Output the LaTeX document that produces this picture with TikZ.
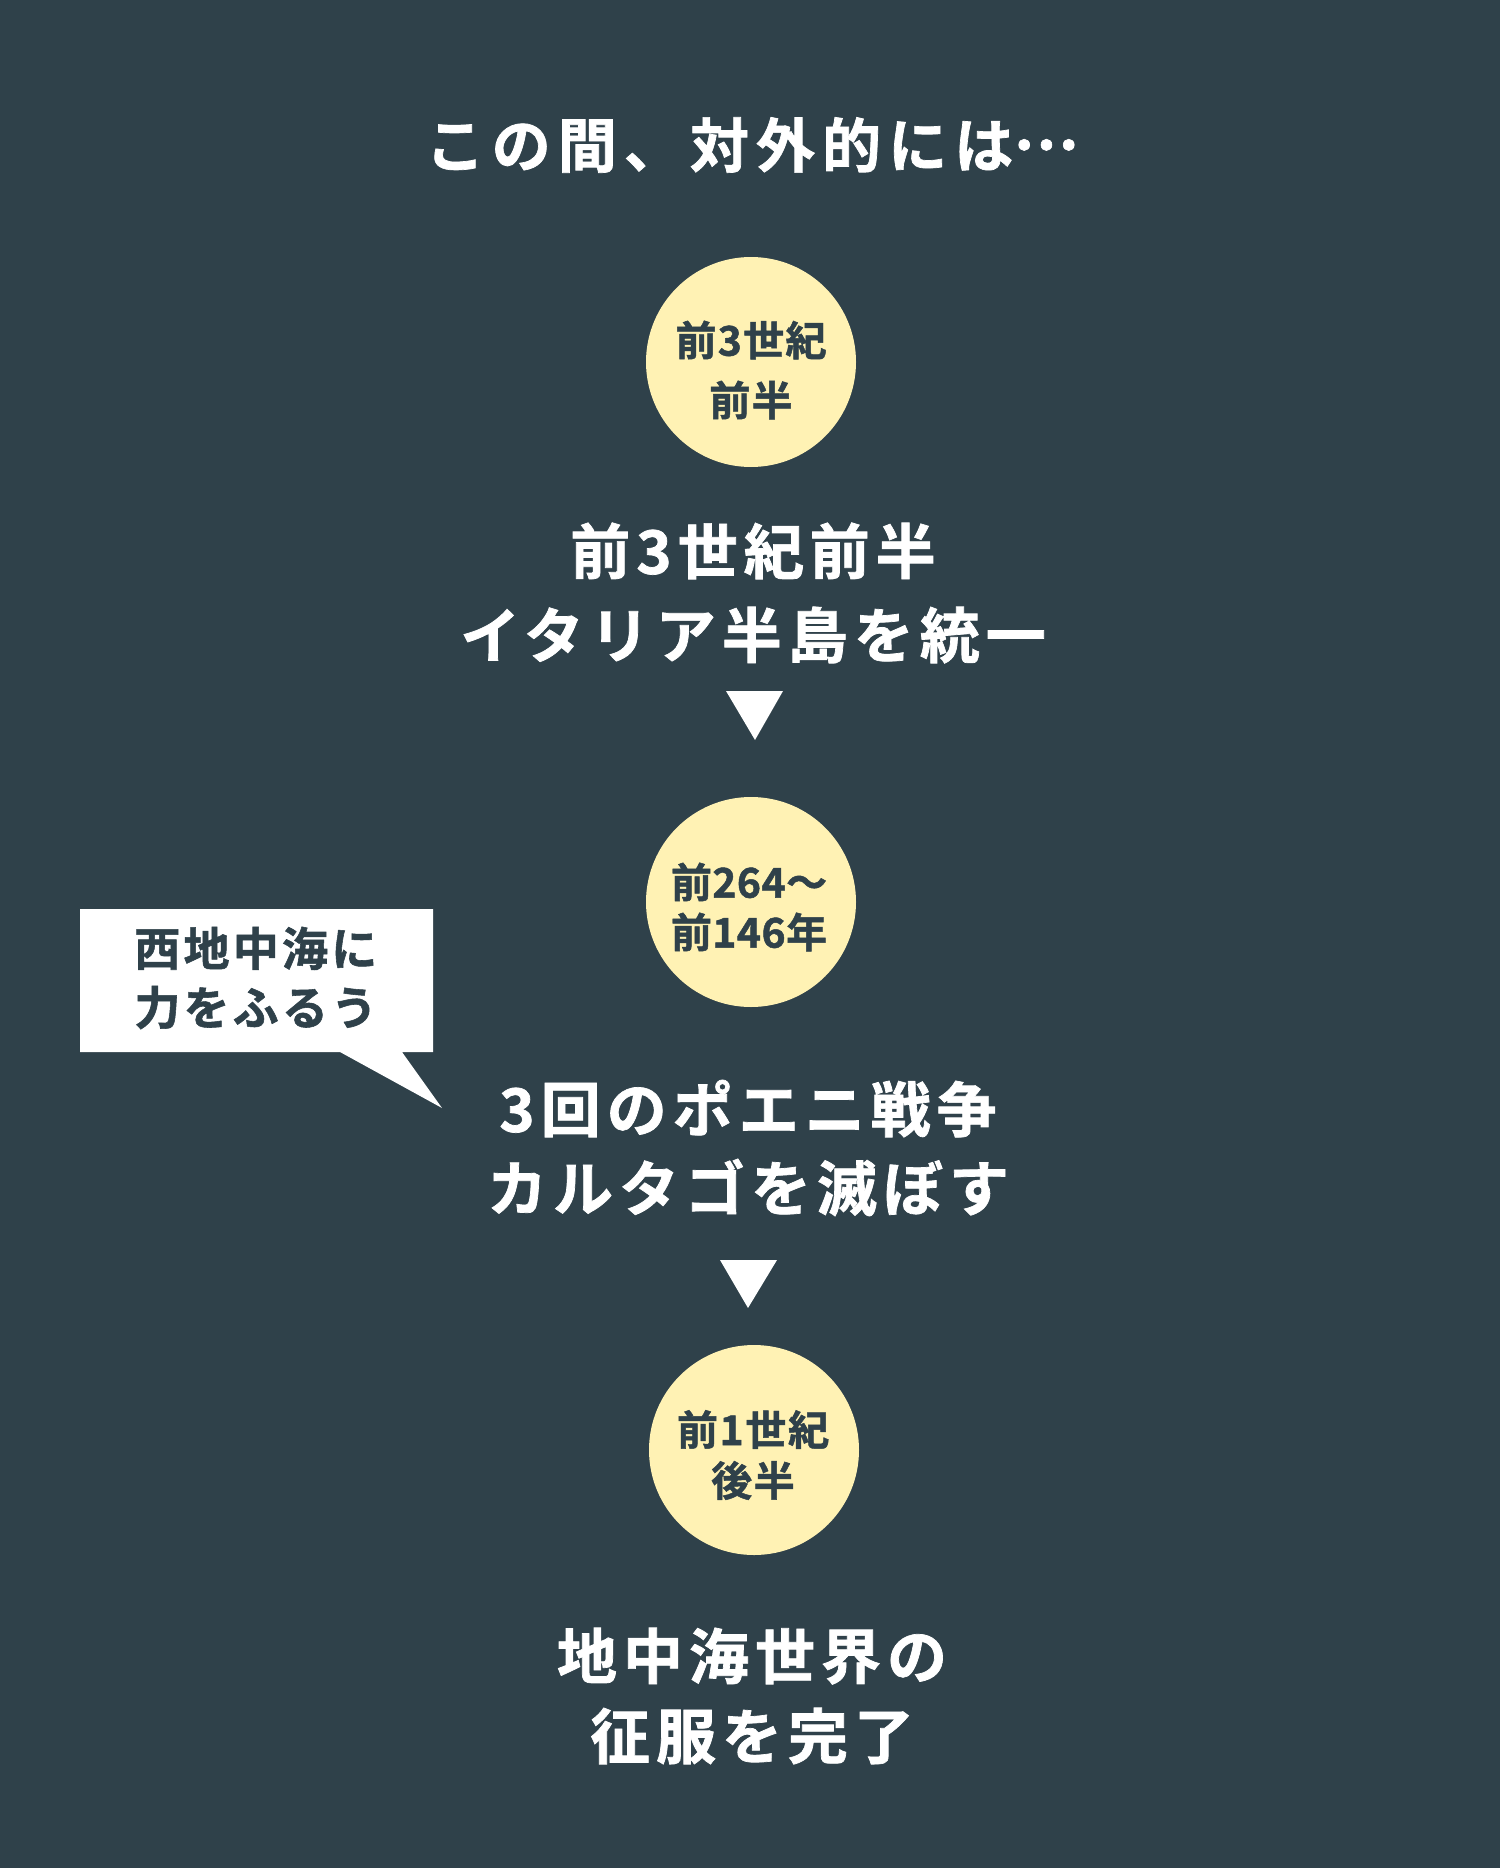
\documentclass[tikz,border=0pt]{standalone}
\usepackage{fontspec}
\newfontfamily\jpb{Noto Sans CJK JP Bold}[FakeBold=1.2]
\definecolor{bg}{RGB}{47,65,74}
\definecolor{cream}{RGB}{255,242,180}
\begin{document}
\begin{tikzpicture}[x=0.5pt,y=-0.5pt,
  bigtext/.style={text=white, align=center, inner sep=0pt},
  era/.style={circle, fill=cream, inner sep=0pt, minimum size=105pt},
  eratext/.style={text=bg, align=center, inner sep=0pt},
  marker/.style={fill=white},
  note/.style={text=bg, align=left, inner sep=0pt, anchor=west}]
\fill[bg] (0,0) rectangle (1500,1868);
\useasboundingbox (0,0) rectangle (1500,1868);

\node[bigtext, font=\jpb\fontsize{29.5}{40}\selectfont\addfontfeatures{LetterSpace=12}] (title) at (752,145) {この間、対外的には\raisebox{0.3em}{…}};

\node[era] (c1) at (751,362) {};
\node[eratext, font=\jpb\fontsize{20.5}{30}\selectfont\addfontfeatures{LetterSpace=3}] (c1t) at (751,370) {前3世紀\\前半};

\node[bigtext, font=\jpb\fontsize{30}{42}\selectfont\addfontfeatures{LetterSpace=10}] (t1) at (753,593) {前3世紀前半\\イタリア半島を統一};

\fill[marker] (726,691) -- (783,691) -- (755,740) -- cycle;

\node[era] (c2) at (751,902) {};
\node[eratext, font=\jpb\fontsize{20.5}{25}\selectfont\addfontfeatures{LetterSpace=1}] (c2t) at (749,907) {前264～\\前146年};

\fill[white] (80,909) -- (433,909) -- (433,1052) -- (402,1052) -- (442,1108) -- (340,1052) -- (80,1052) -- cycle;
\node[note, font=\jpb\fontsize{23}{29.5}\selectfont\addfontfeatures{LetterSpace=7}] (n1) at (134,978) {西地中海に\\力をふるう};

\node[bigtext, font=\jpb\fontsize{30}{39.5}\selectfont\addfontfeatures{LetterSpace=10}] (t2) at (748,1148) {3回のポエニ戦争\\カルタゴを滅ぼす};

\fill[marker] (720,1260) -- (777,1260) -- (748,1308) -- cycle;

\node[era] (c3) at (754,1450) {};
\node[eratext, font=\jpb\fontsize{20.5}{25.5}\selectfont\addfontfeatures{LetterSpace=4}] (c3t) at (753,1455) {前1世紀\\後半};

\node[bigtext, font=\jpb\fontsize{30}{40}\selectfont\addfontfeatures{LetterSpace=10}] (t3) at (752,1696) {地中海世界の\\征服を完了};
\end{tikzpicture}
\end{document}
